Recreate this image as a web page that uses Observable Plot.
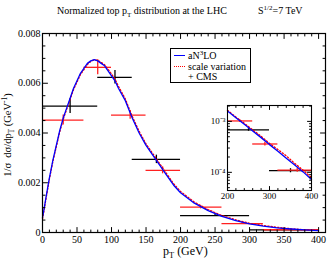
<!DOCTYPE html>
<html><head><meta charset="utf-8">
<script src="https://cdn.jsdelivr.net/npm/d3@7"></script>
<script src="https://cdn.jsdelivr.net/npm/@observablehq/plot@0.6"></script>
<style>
body{margin:0;background:#fff;}
#wrap{position:relative;width:327px;height:259px;font-family:"Liberation Serif","Times New Roman",serif;color:#000;overflow:hidden;}
#wrap svg{position:absolute;}
.t{position:absolute;white-space:nowrap;line-height:10px;}
.t sub,.t sup{line-height:0;font-size:70%;}
#legend{position:absolute;left:170px;top:48px;width:79px;height:33px;border:1.5px solid #000;background:#fff;font-size:10px;}
#legend .row{position:absolute;left:0;width:79px;height:11px;line-height:11px;white-space:nowrap;}
#legend .sw{position:absolute;left:3px;width:11px;height:0;top:5px;}
#legend .tx{position:absolute;left:17px;top:0;}
</style></head><body><div id="wrap"></div>
<script>
// theoretical curve (aN3LO) and scale-variation curve
const ptGrid   = [0,2,5,10,15,20,25,30,35,40,45,50,55,60,65,70,75,80,85,90,95,100,105,110,120,130,140,150,160,170,180,190,200,220,240,260,280,300,320,340,360,380,400];
const aN3LO    = [0.0006,0.0009,0.0014,0.0022,0.0029,0.0035,0.0041,0.0046,0.0050,0.0054,0.0058,0.0061,0.0064,0.0066,0.0068,0.0069,0.00695,0.0069,0.0068,0.0067,0.0065,0.0063,0.0061,0.0058,0.0053,0.0046,0.0040,0.0035,0.0031,0.0027,0.0023,0.0019,0.0016,0.00118,0.00088,0.00065,0.00048,0.00035,0.00026,0.00019,0.00014,0.000102,0.000072];
const scaleVar = [0.00055,0.00085,0.00135,0.00215,0.00285,0.00345,0.00405,0.00455,0.00495,0.00535,0.00575,0.00605,0.00635,0.00655,0.00675,0.00688,0.00694,0.00692,0.00684,0.00674,0.00656,0.00637,0.00617,0.00588,0.00537,0.00467,0.00407,0.00356,0.00316,0.00276,0.00236,0.00196,0.00165,0.00122,0.00092,0.00068,0.00051,0.00037,0.00028,0.00021,0.00015,0.00011,0.000079];
// CMS lepton+jets (black)
const ljLo  = [0,80,130,200,300];
const ljHi  = [80,130,200,300,400];
const ljX   = [40,105,165,250,350];
const ljVal = [0.00508,0.00624,0.00294,0.00068,0.000108];
const ljErr = [0.0003,0.00027,0.00017,0.00004,0.00001];
// CMS dilepton (red)
const dlLo  = [0,60,100,150,200,260,320];
const dlHi  = [60,100,150,200,260,320,400];
const dlX   = [30,80,127,174,229,289,366];
const dlVal = [0.00452,0.00664,0.00472,0.00250,0.00102,0.00036,0.000110];
const dlErr = [0.0002,0.0003,0.00017,0.00014,0.00007,0.00003,0.00001];
// ticks
const xMajor = [0,50,100,150,200,250,300,350,400];
const yMajor = [0,0.002,0.004,0.006,0.008];
const insetXMajor = [200,300,400];
const insetYMajor = [1e-4,1e-3];

const curve = ptGrid.map((p,i)=>({pt:p, c:aN3LO[i], s:scaleVar[i]}));
const lj = ljX.map((x,i)=>({x, lo:ljLo[i], hi:ljHi[i], v:ljVal[i], e:ljErr[i]}));
const dl = dlX.map((x,i)=>({x, lo:dlLo[i], hi:dlHi[i], v:dlVal[i], e:dlErr[i]}));

const xMinor = d3.range(0,411,10).filter(v=>!xMajor.includes(v));
const yMinor = d3.range(0,0.00801,0.0005).filter(v=>!yMajor.some(m=>Math.abs(m-v)<1e-9));
const insetXMinor = d3.range(200,401,20).filter(v=>!insetXMajor.includes(v));
const insetYMinor = [];
for (const e of [1e-5,1e-4,1e-3]) for (let k=2;k<=9;k++){const v=k*e; if(v>4.4e-5 && v<2.05e-3) insetYMinor.push(v);}

const tickShape = {draw(ctx,l){ctx.moveTo(0,0);ctx.lineTo(0,-l);}};
function tx(vals,len,side){return Plot.vector(vals,{x:d=>d,frameAnchor:side,length:len,rotate:side==="bottom"?0:180,anchor:"start",shape:tickShape,stroke:"black",strokeWidth:1});}
function ty(vals,len,side){return Plot.vector(vals,{y:d=>d,frameAnchor:side,length:len,rotate:side==="left"?90:-90,anchor:"start",shape:tickShape,stroke:"black",strokeWidth:1});}

function dataMarks(filterFn, clip){
  const L = lj.filter(filterFn), D = dl.filter(filterFn);
  return [
    Plot.ruleY(L,{y:"v",x1:"lo",x2:"hi",stroke:"#000",strokeWidth:1.3,clip}),
    Plot.ruleX(L,{x:"x",y1:d=>d.v-d.e,y2:d=>d.v+d.e,stroke:"#000",strokeWidth:1.3,clip}),
    Plot.ruleY(D,{y:"v",x1:"lo",x2:"hi",stroke:"#ff2020",strokeWidth:1.3,clip}),
    Plot.ruleX(D,{x:"x",y1:d=>d.v-d.e,y2:d=>d.v+d.e,stroke:"#ff2020",strokeWidth:1.3,clip})
  ];
}

const main = Plot.plot({
  width:327, height:259,
  marginLeft:42, marginRight:2, marginTop:33, marginBottom:27,
  style:{fontFamily:"'Liberation Serif','Times New Roman',serif",fontSize:"10px",background:"transparent",color:"#000"},
  x:{domain:[0,410]},
  y:{domain:[0,0.008]},
  marks:[
    ...dataMarks(()=>true,false),
    Plot.line(curve,{x:"pt",y:"s",stroke:"#ff0000",strokeWidth:1.3,strokeDasharray:"1.3,2"}),
    Plot.line(curve,{x:"pt",y:"c",stroke:"#0000ff",strokeWidth:1.3}),
    Plot.frame({stroke:"#000",strokeWidth:1.2}),
    tx(xMajor,5,"bottom"), tx(xMinor,2.5,"bottom"), tx(xMajor,5,"top"), tx(xMinor,2.5,"top"),
    ty(yMajor,5,"left"), ty(yMinor,2.5,"left"), ty(yMajor,5,"right"), ty(yMinor,2.5,"right"),
    Plot.axisX({ticks:xMajor,tickSize:0,tickPadding:3,label:null,fontSize:10}),
    Plot.axisY({ticks:yMajor,tickSize:0,tickPadding:2,label:null,fontSize:10,tickFormat:d=>d===0?"0":d.toFixed(3)})
  ]
});
main.style.left="0px"; main.style.top="0px";

const inset = Plot.plot({
  width:124, height:115,
  marginLeft:27, marginRight:13, marginTop:10, marginBottom:20,
  style:{fontFamily:"'Liberation Serif','Times New Roman',serif",fontSize:"9px",background:"transparent",color:"#000"},
  x:{domain:[200,400]},
  y:{type:"log",domain:[4.4e-5,2.05e-3]},
  marks:[
    ...dataMarks(d=>d.hi>200,true),
    Plot.line(curve.filter(d=>d.pt>=200),{x:"pt",y:"s",stroke:"#ff0000",strokeWidth:1.3,strokeDasharray:"1.3,2"}),
    Plot.line(curve.filter(d=>d.pt>=200),{x:"pt",y:"c",stroke:"#0000ff",strokeWidth:1.3}),
    Plot.frame({stroke:"#000",strokeWidth:1.1}),
    tx(insetXMajor,4,"bottom"), tx(insetXMinor,2,"bottom"), tx(insetXMajor,4,"top"), tx(insetXMinor,2,"top"),
    ty(insetYMajor,4,"left"), ty(insetYMinor,2,"left"), ty(insetYMajor,4,"right"), ty(insetYMinor,2,"right"),
    Plot.axisX({ticks:insetXMajor,tickSize:0,tickPadding:2,label:null,fontSize:9}),
    Plot.axisY({ticks:insetYMajor,tickSize:0,tickPadding:2,label:null,fontSize:9,tickFormat:d=>d===1e-3?"10\u207B\u00B3":"10\u207B\u2074"})
  ]
});
inset.style.left="200px"; inset.style.top="95px";

const wrap = document.getElementById("wrap");
wrap.appendChild(main);
wrap.appendChild(inset);

function addText(html, css){const d=document.createElement("div");d.className="t";d.innerHTML=html;Object.assign(d.style,css);wrap.appendChild(d);return d;}
addText("Normalized top p<sub>T</sub> distribution at the LHC",{left:"57px",top:"6px",fontSize:"10px"});
addText("S<sup>1/2</sup>=7 TeV",{left:"258px",top:"6px",fontSize:"10px"});
addText("p<sub>T</sub> (GeV)",{left:"163px",top:"246px",fontSize:"12px"});
addText("1/\u03C3&nbsp; d\u03C3/dp<sub>T</sub> (GeV<sup>-1</sup>)",{left:"8px",top:"135px",fontSize:"10.5px",transform:"translate(-50%,-50%) rotate(-90deg)"});

const lg=document.createElement("div");lg.id="legend";
lg.innerHTML=
 '<div class="row" style="top:1px"><div class="sw" style="border-top:1.5px solid #0000ff"></div><div class="tx">aN<sup style="font-size:70%;line-height:0">3</sup>LO</div></div>'+
 '<div class="row" style="top:12px"><div class="sw" style="border-top:1.5px dotted #ff0000"></div><div class="tx">scale variation</div></div>'+
 '<div class="row" style="top:22px"><div class="tx">+ CMS</div></div>';
wrap.appendChild(lg);
</script></body></html>
